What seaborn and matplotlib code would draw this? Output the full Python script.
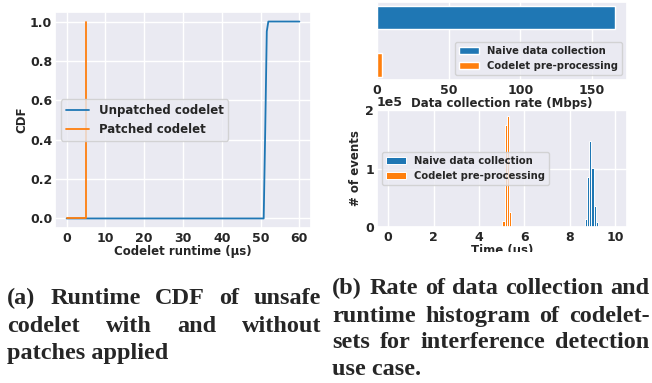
import numpy as np
import pandas as pd
import matplotlib
matplotlib.use("Agg")
import matplotlib.pyplot as plt
from matplotlib.ticker import MultipleLocator
from matplotlib.patches import Rectangle
import seaborn as sns

# ---------------- data ----------------
unpatched_runtime_us = [0, 50.8, 51.2, 51.6, 52.0, 60]
unpatched_cdf = [0.0, 0.0, 0.45, 0.95, 1.0, 1.0]
patched_runtime_us = [0, 5.0, 5.0]
patched_cdf = [0.0, 0.0, 1.0]

methods = ["Naive data collection", "Codelet pre-processing"]
rates_mbps = [166, 4]

naive_time_us = [8.7, 8.8, 8.9, 9.0, 9.1, 9.2]
naive_events = [14000, 85000, 147000, 101000, 36000, 8000]
codelet_time_us = [5.08, 5.18, 5.28, 5.38]
codelet_events = [9000, 175000, 191000, 26000]

caption_a = [["(a)", "Runtime", "CDF", "of", "unsafe"],
             ["codelet", "with", "and", "without"],
             ["patches applied"]]
caption_b = [["(b)", "Rate", "of", "data", "collection", "and"],
             ["runtime", "histogram", "of", "codelet-"],
             ["sets", "for", "interference", "detection"],
             ["use case."]]

# ---------------- style ----------------
sns.set_theme(style="darkgrid", palette="tab10")
plt.rcParams["font.family"] = ["DejaVu Sans"]
plt.rcParams["font.weight"] = "bold"
plt.rcParams["axes.labelweight"] = "bold"
plt.rcParams["xtick.major.size"] = 0
plt.rcParams["ytick.major.size"] = 0
plt.rcParams["xtick.major.pad"] = 3
plt.rcParams["ytick.major.pad"] = 2

W, H = 652, 383
fig = plt.figure(figsize=(W / 100, H / 100), dpi=100)

def box(l, t, r, b):
    return [l / W, 1 - b / H, (r - l) / W, (b - t) / H]

TICK = 9
LABEL = 8.5

# ---------------- (a) CDF ----------------
ax1 = fig.add_axes(box(55, 11.7, 311, 228.3))
sns.lineplot(x=unpatched_runtime_us, y=unpatched_cdf, estimator=None, sort=False,
             color="C0", linewidth=1.3, label="Unpatched codelet", ax=ax1)
sns.lineplot(x=patched_runtime_us, y=patched_cdf, estimator=None, sort=False,
             color="C1", linewidth=1.3, label="Patched codelet", ax=ax1)
ax1.xaxis.set_major_locator(MultipleLocator(10))
ax1.yaxis.set_major_locator(MultipleLocator(0.2))
ax1.set_xlabel("Codelet runtime (µs)", fontsize=LABEL, labelpad=0)
ax1.set_ylabel("CDF", fontsize=LABEL, labelpad=1)
ax1.tick_params(labelsize=TICK)
ax1.legend(loc="center left", fontsize=8.5)

# ---------------- (b) top: bar chart ----------------
ax2 = fig.add_axes(box(376.7, 2, 627, 80.3))
df_rate = pd.DataFrame({"method": methods, "rate": rates_mbps})
sns.barplot(data=df_rate, x="rate", y="method", hue="method", orient="h",
            width=0.5, palette=["C0", "C1"], saturation=1, legend=True, ax=ax2)
ax2.set_ylim(1.325, -0.325)
ax2.set_yticks([])
ax2.set_ylabel("")
ax2.xaxis.set_major_locator(MultipleLocator(50))
ax2.set_xlabel("Data collection rate (Mbps)", fontsize=LABEL, labelpad=0)
ax2.tick_params(labelsize=TICK)
sns.move_legend(ax2, "lower right", title=None, fontsize=7.2)

# ---------------- (b) bottom: histogram ----------------
ax3 = fig.add_axes(box(376.7, 110, 626.7, 226.7))
sns.histplot(x=naive_time_us, weights=naive_events, binwidth=0.1,
             binrange=(8.65, 9.25), color="C0", edgecolor="white", linewidth=0.7,
             alpha=1, label=methods[0], ax=ax3)
sns.histplot(x=codelet_time_us, weights=codelet_events, binwidth=0.1,
             binrange=(5.03, 5.43), color="C1", edgecolor="white", linewidth=0.7,
             alpha=1, label=methods[1], ax=ax3)
ax3.set_xlim(-0.5, 10.5)
ax3.xaxis.set_major_locator(MultipleLocator(2))
ax3.yaxis.set_major_locator(MultipleLocator(1e5))
ax3.ticklabel_format(axis="y", style="sci", scilimits=(0, 0))
ax3.yaxis.get_offset_text().set_fontsize(TICK)
ax3.yaxis.get_offset_text().set_fontweight("bold")
ax3.set_xlabel("Time (us)", fontsize=LABEL, labelpad=0)
ax3.set_ylabel("# of events", fontsize=LABEL, labelpad=2)
ax3.tick_params(labelsize=TICK)
ax3.legend(loc="center left", fontsize=7.2)

# white band hiding the bottom of the clipped right x-label
fig.add_artist(Rectangle((330 / W, 0), (W - 330) / W, 1 - 252 / H,
                         transform=fig.transFigure, facecolor="white",
                         edgecolor="none", zorder=5))

# ---------------- captions ----------------
CAP_FS = 17.5
renderer = fig.canvas.get_renderer()

def caption_line(words, x0, x1, ybase, justify):
    y = 1 - ybase / H
    if not justify or len(words) == 1:
        fig.text(x0 / W, y, " ".join(words), fontsize=CAP_FS,
                 family="Liberation Serif", weight="bold", va="baseline",
                 ha="left", zorder=6)
        return
    texts = [fig.text(0, y, w, fontsize=CAP_FS, family="Liberation Serif",
                      weight="bold", va="baseline", ha="left", zorder=6)
             for w in words]
    widths = [t.get_window_extent(renderer).width for t in texts]
    gap = (x1 - x0 - sum(widths)) / (len(words) - 1)
    x = x0
    for t, w in zip(texts, widths):
        t.set_x(x / W)
        x += w + gap

for i, (line, yb) in enumerate(zip(caption_a, [304.4, 331.7, 359.0])):
    caption_line(line, 7.3, 321, yb, i < len(caption_a) - 1)
for i, (line, yb) in enumerate(zip(caption_b, [294.3, 321.7, 348.3, 375.0])):
    caption_line(line, 332.3, 649.5, yb, i < len(caption_b) - 1)

fig.savefig("out.png", dpi=100)
